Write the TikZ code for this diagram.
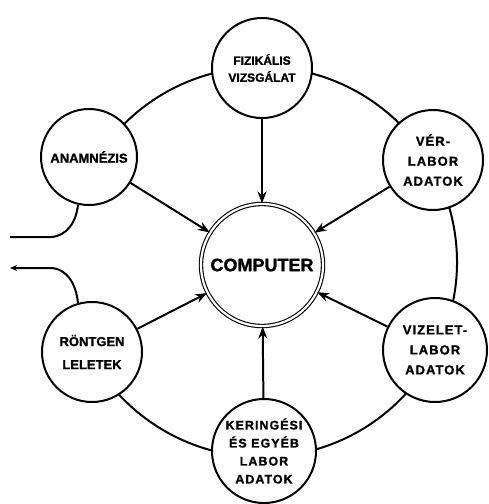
\documentclass[tikz,border=0pt]{standalone}
\usepackage{fontspec}
\setmainfont{Liberation Sans}
\newfontfamily\labfont{Liberation Sans}[LetterSpace=8, BoldFeatures={FakeBold=1.2}]
\newfontfamily\tightfont{Liberation Sans}[BoldFeatures={FakeBold=1.2}]
\usetikzlibrary{arrows.meta}
\begin{document}
\begin{tikzpicture}[x=1pt,y=1pt,
  sat/.style={circle, draw, line width=2pt, fill=white, minimum size=#1, inner sep=0pt, align=center,
    font=\labfont\fontsize{13}{20}\selectfont\bfseries},
  sat/.default=100pt,
  comp/.style={circle, draw, line width=1.1pt, double=white, double distance=2.2pt, fill=white,
    minimum size=122pt, inner sep=0pt, font=\tightfont\fontsize{18}{20}\selectfont\bfseries},
  link/.style={line width=2pt},
  feed/.style={line width=2pt, -{Stealth[length=12pt,width=9pt]}},
  outarrow/.style={line width=2pt, -{Stealth[length=7pt,width=6pt]}}
]
\useasboundingbox (0,0) rectangle (489,-504);
\coordinate (ctr) at (262,-262);
\draw[link] (ctr) ++(150:195) arc[start angle=150, end angle=-150, radius=195];

\node[comp] (comp) at (262,-265) {COMPUTER};

\node[sat, font=\tightfont\fontsize{12}{17}\selectfont\bfseries] (fiz) at (262,-68) {FIZIKÁLIS\\VIZSGÁLAT};
\node[sat=96pt, font=\tightfont\fontsize{13}{17}\selectfont\bfseries] (anam) at (89,-157) {ANAMNÉZIS};
\node[sat] (ver) at (433,-160) {VÉR-\\LABOR\\ADATOK};
\node[sat=104pt] (viz) at (435,-350) {VIZELET-\\LABOR\\ADATOK};
\node[sat, font=\tightfont\fontsize{13}{23}\selectfont\bfseries] (ront) at (92,-352) {RÖNTGEN\\LELETEK};
\node[sat=104pt, font=\labfont\fontsize{12.5}{18}\selectfont\bfseries] (ker) at (264,-451) {KERINGÉSI\\ÉS EGYÉB\\LABOR\\ADATOK};

\foreach \s in {fiz,anam,ver,viz,ront,ker}
  \draw[feed] (\s) -- (comp);

\coordinate (inL) at (10,-237);
\coordinate (outL) at (10,-268);
\draw[link] (anam.257) to[out=-95,in=0] (50,-237) -- (inL);
\draw[outarrow] (ront.106) to[out=95,in=0] (50,-268) -- (outL);
\end{tikzpicture}
\end{document}
